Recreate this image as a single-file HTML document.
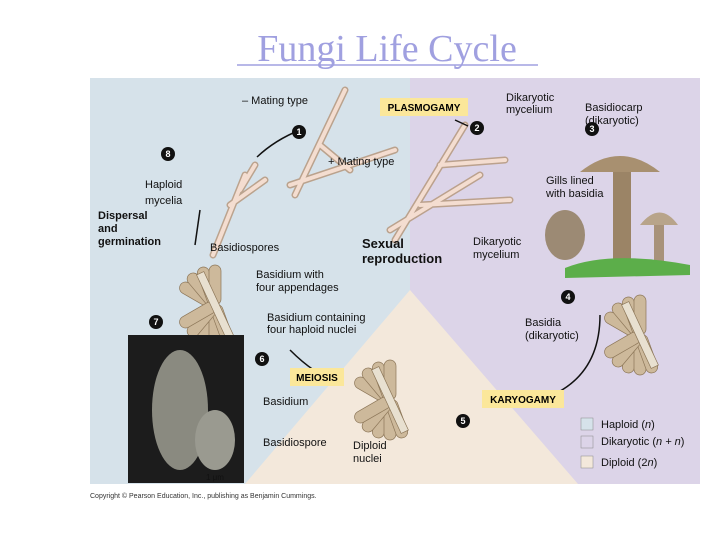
<!DOCTYPE html>
<html><head><style>
body{margin:0;background:#fff;width:720px;height:540px;overflow:hidden;font-family:"Liberation Sans",sans-serif}
</style></head><body>
<svg width="720" height="540" xmlns="http://www.w3.org/2000/svg" font-family="Liberation Sans, sans-serif">
<defs>
<g id="cl">
<rect x="-6" y="-40" width="12" height="40" rx="6" fill="#cdb99b" stroke="#8c7658" stroke-width="0.7" transform="rotate(-60)"/>
<rect x="-6" y="-40" width="12" height="40" rx="6" fill="#cdb99b" stroke="#8c7658" stroke-width="0.7" transform="rotate(-40)"/>
<rect x="-6" y="-40" width="12" height="40" rx="6" fill="#cdb99b" stroke="#8c7658" stroke-width="0.7" transform="rotate(-20)"/>
<rect x="-6" y="-40" width="12" height="40" rx="6" fill="#cdb99b" stroke="#8c7658" stroke-width="0.7" transform="rotate(0)"/>
<rect x="-6" y="-40" width="12" height="40" rx="6" fill="#cdb99b" stroke="#8c7658" stroke-width="0.7" transform="rotate(200)"/>
<rect x="-6" y="-40" width="12" height="40" rx="6" fill="#cdb99b" stroke="#8c7658" stroke-width="0.7" transform="rotate(180)"/>
<rect x="-6" y="-40" width="12" height="40" rx="6" fill="#cdb99b" stroke="#8c7658" stroke-width="0.7" transform="rotate(160)"/>
<rect x="-6" y="-40" width="12" height="40" rx="6" fill="#cdb99b" stroke="#8c7658" stroke-width="0.7" transform="rotate(220)"/>
<rect x="-6" y="-40" width="12" height="40" rx="6" fill="#cdb99b" stroke="#8c7658" stroke-width="0.7" transform="rotate(240)"/>
<rect x="-4" y="-35" width="8" height="70" fill="#e8e0d0" stroke="#8c7658" stroke-width="0.7" transform="rotate(-25)"/>
</g>
</defs>
<text x="387" y="61" text-anchor="middle" font-family="Liberation Serif, serif" font-size="38" fill="#a0a0e0">Fungi Life Cycle</text>
<line x1="237" y1="65" x2="538" y2="65" stroke="#a0a0e0" stroke-width="1.5"/>
<rect x="90" y="78" width="320" height="406" fill="#d6e2ea"/>
<rect x="410" y="78" width="290" height="406" fill="#dcd4e8"/>
<polygon points="410,290 245,484 578,484" fill="#f3e8db"/>
<g stroke="#b89c84" stroke-width="7" stroke-linecap="round" fill="none" opacity="0.9">
<path d="M213,255 L245,175 M230,205 L265,180 M240,190 L255,165"/>
<path d="M295,195 L345,90 M290,185 L395,150 M320,145 L350,170"/>
<path d="M395,240 L465,125 M390,230 L480,175 M420,205 L510,200 M440,165 L505,160"/>
</g>
<g stroke="#f4ddd0" stroke-width="4" stroke-linecap="round" fill="none">
<path d="M213,255 L245,175 M230,205 L265,180 M240,190 L255,165"/>
<path d="M295,195 L345,90 M290,185 L395,150 M320,145 L350,170"/>
<path d="M395,240 L465,125 M390,230 L480,175 M420,205 L510,200 M440,165 L505,160"/>
</g>
<path d="M580,172 Q620,140 660,172 Z" fill="#a89070"/>
<rect x="613" y="172" width="18" height="90" fill="#9b8466"/>
<path d="M640,225 Q660,200 678,225 Z" fill="#b8a48a"/>
<rect x="654" y="225" width="10" height="38" fill="#a8927a"/>
<path d="M565,268 Q610,250 690,265 L690,275 L565,278 Z" fill="#5cae4a"/>
<ellipse cx="565" cy="235" rx="20" ry="25" fill="#9c8a74"/>
<use href="#cl" transform="translate(215,305)"/>
<use href="#cl" transform="translate(390,400)"/>
<use href="#cl" transform="translate(640,335)"/>
<rect x="128" y="335" width="116" height="148" fill="#1c1c1c"/>
<ellipse cx="180" cy="410" rx="28" ry="60" fill="#8a8a80"/>
<ellipse cx="215" cy="440" rx="20" ry="30" fill="#9a9a90"/>
<g stroke="#111" stroke-width="1.5" fill="none">
<path d="M257,157 Q275,140 300,130"/><path d="M455,120 L468,126"/>
<path d="M600,315 Q600,380 540,400"/><path d="M525,401 L497,401"/>
<path d="M335,380 Q315,375 290,350"/><path d="M195,245 L200,210"/>
</g>
<rect x="380" y="98" width="88" height="18" fill="#fbe79a"/>
<text x="424" y="111" text-anchor="middle" font-size="10" font-weight="bold">PLASMOGAMY</text>
<rect x="290" y="368" width="54" height="18" fill="#fbe79a"/>
<text x="317" y="381" text-anchor="middle" font-size="10" font-weight="bold">MEIOSIS</text>
<rect x="482" y="390" width="82" height="18" fill="#fbe79a"/>
<text x="523" y="403" text-anchor="middle" font-size="10" font-weight="bold">KARYOGAMY</text>
<g font-size="11" fill="#111">
<text x="242" y="104">– Mating type</text>
<text x="328" y="165">+ Mating type</text>
<text x="506" y="101">Dikaryotic</text><text x="506" y="113">mycelium</text>
<text x="585" y="111">Basidiocarp</text><text x="585" y="124">(dikaryotic)</text>
<text x="546" y="184">Gills lined</text><text x="546" y="197">with basidia</text>
<text x="145" y="188">Haploid</text><text x="145" y="204">mycelia</text>
<text x="98" y="219" font-weight="bold">Dispersal</text><text x="98" y="232" font-weight="bold">and</text><text x="98" y="245" font-weight="bold">germination</text>
<text x="210" y="251">Basidiospores</text>
<text x="362" y="248" font-size="13" font-weight="bold">Sexual</text><text x="362" y="263" font-size="13" font-weight="bold">reproduction</text>
<text x="473" y="245">Dikaryotic</text><text x="473" y="258">mycelium</text>
<text x="256" y="278">Basidium with</text><text x="256" y="291">four appendages</text>
<text x="267" y="321">Basidium containing</text><text x="267" y="333">four haploid nuclei</text>
<text x="525" y="326">Basidia</text><text x="525" y="339">(dikaryotic)</text>
<text x="263" y="405">Basidium</text>
<text x="263" y="446">Basidiospore</text>
<text x="353" y="449">Diploid</text><text x="353" y="462">nuclei</text>
<text x="601" y="428">Haploid (<tspan font-style="italic">n</tspan>)</text>
<text x="601" y="445">Dikaryotic (<tspan font-style="italic">n + n</tspan>)</text>
<text x="601" y="466">Diploid (2<tspan font-style="italic">n</tspan>)</text>
<text x="206" y="480" font-size="8">1 μm</text>
</g>
<rect x="581" y="418" width="12" height="12" fill="#d6e2ea" stroke="#888" stroke-width="0.5"/>
<rect x="581" y="436" width="12" height="12" fill="#dcd4e8" stroke="#888" stroke-width="0.5"/>
<rect x="581" y="456" width="12" height="12" fill="#f3e8db" stroke="#888" stroke-width="0.5"/>
<g fill="#111">
<circle cx="299" cy="132" r="7"/><circle cx="477" cy="128" r="7"/><circle cx="592" cy="129" r="7"/>
<circle cx="168" cy="154" r="7"/><circle cx="568" cy="297" r="7"/><circle cx="463" cy="421" r="7"/>
<circle cx="262" cy="359" r="7"/><circle cx="156" cy="322" r="7"/>
</g>
<g fill="#fff" font-size="9" font-weight="bold" text-anchor="middle">
<text x="299" y="135">1</text><text x="477" y="131">2</text><text x="592" y="132">3</text>
<text x="168" y="157">8</text><text x="568" y="300">4</text><text x="463" y="424">5</text>
<text x="262" y="362">6</text><text x="156" y="325">7</text>
</g>
<text x="90" y="498" font-size="7" fill="#333">Copyright © Pearson Education, Inc., publishing as Benjamin Cummings.</text>
</svg>
</body></html>
